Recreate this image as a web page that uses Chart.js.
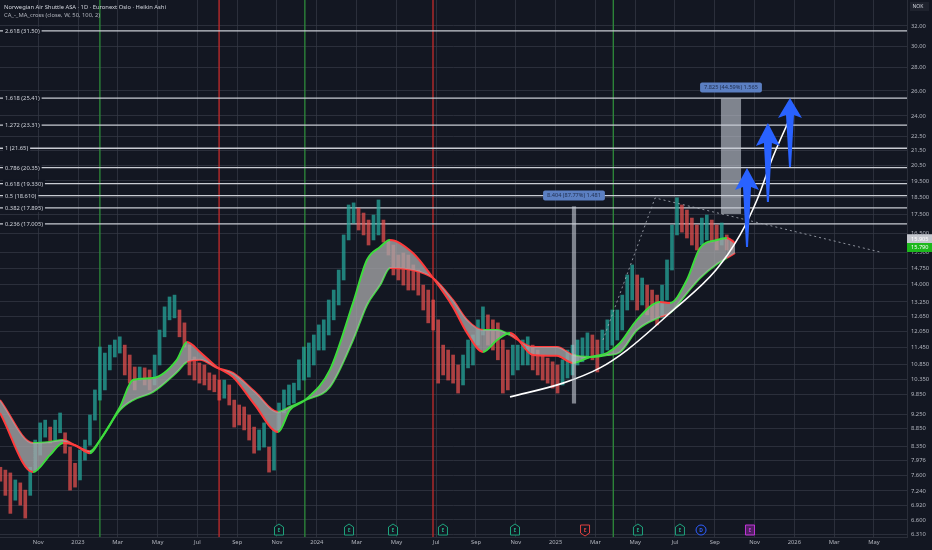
<!DOCTYPE html>
<html>
<head>
<meta charset="utf-8">
<script src="https://cdn.jsdelivr.net/npm/chart.js@4.4.1/dist/chart.umd.min.js"></script>
<style>
  html, body { margin: 0; padding: 0; background: #131722; }
  canvas { display: block; }
</style>
</head>
<body>
<canvas id="canvas-chart1" width="932" height="550"></canvas>
<script>
// weekly Heikin Ashi ranges, x in months since Jan 2023
const weekStart = -3.9;
const weekStep = 0.25;
const weekHigh = [
  7.81, 7.74, 7.67, 7.50, 7.43, 7.26, 7.81, 8.52, 9.00, 9.08,
  8.88, 9.08, 9.29, 8.72, 8.33, 7.91, 8.25, 8.52, 9.23, 10.00,
  11.47, 11.25, 11.54, 11.73, 11.85, 11.54, 11.18, 10.76, 10.76, 10.73,
  10.66, 11.18, 12.11, 13.04, 13.46, 13.54, 12.91, 12.39, 11.54, 11.11,
  10.90, 10.83, 10.56, 10.49, 10.32, 10.32, 10.16, 9.68, 9.53, 9.47,
  9.23, 8.88, 8.80, 9.00, 8.33, 8.80, 9.59, 10.00, 10.16, 10.22,
  11.01, 11.47, 11.62, 11.92, 12.31, 12.51, 13.33, 13.76, 14.67, 16.41,
  18.06, 18.18, 17.88, 17.60, 17.21, 17.49, 18.35, 17.21, 16.15, 15.89,
  15.39, 15.49, 15.39, 14.91, 14.67, 13.98, 13.76, 13.33, 12.51, 11.54,
  11.36, 11.18, 10.83, 11.18, 11.73, 11.92, 12.51, 13.04, 12.71, 12.51,
  12.39, 11.73, 11.36, 11.54, 11.54, 11.73, 11.85, 11.54, 11.36, 11.18,
  11.07, 10.94, 10.83, 11.01, 11.36, 11.54, 11.73, 11.81, 12.00, 11.92,
  11.73, 12.11, 12.51, 12.91, 12.91, 13.54, 14.44, 14.91, 14.44, 14.30,
  13.98, 13.76, 13.54, 13.98, 15.15, 16.94, 18.48, 18.06, 17.77, 17.32,
  16.94, 17.32, 17.49, 17.21, 16.94, 17.05, 16.41, 16.15
];
const weekLow = [
  7.47, 7.14, 6.74, 7.03, 6.92, 6.64, 7.14, 7.74, 8.12, 8.60,
  8.44, 8.52, 8.72, 8.17, 7.26, 7.33, 7.50, 7.99, 8.38, 9.08,
  9.68, 10.00, 10.66, 11.11, 11.25, 10.49, 10.22, 10.00, 10.32, 10.16,
  10.00, 10.16, 10.83, 11.85, 12.51, 12.59, 11.85, 11.47, 10.49, 10.32,
  10.22, 10.16, 10.00, 9.94, 9.68, 9.74, 9.53, 8.88, 8.94, 8.80,
  8.52, 8.17, 8.25, 8.33, 7.69, 7.74, 8.80, 9.29, 9.53, 9.59,
  10.00, 10.32, 10.42, 10.83, 11.36, 11.36, 11.92, 12.51, 13.12, 14.21,
  16.15, 17.05, 16.67, 16.41, 15.89, 16.15, 16.41, 16.04, 15.39, 14.44,
  14.21, 13.98, 13.76, 13.76, 13.54, 12.91, 12.39, 12.11, 10.22, 10.49,
  10.32, 10.22, 9.90, 10.16, 10.73, 10.83, 11.54, 11.92, 11.54, 11.36,
  11.01, 9.90, 10.00, 10.49, 10.66, 10.83, 10.83, 10.66, 10.49, 10.32,
  10.22, 10.06, 9.90, 10.16, 10.39, 10.49, 10.83, 10.94, 11.07, 11.01,
  10.59, 11.18, 11.36, 11.54, 11.73, 12.11, 12.91, 13.33, 12.91, 13.12,
  12.71, 12.51, 12.31, 12.59, 13.33, 14.67, 16.41, 16.56, 16.25, 15.89,
  15.64, 15.89, 16.15, 16.04, 15.64, 15.89, 15.64, 15.64
];

// MA cross indicator (weekly 50 / 100)
const maMonths = [-3.92, -2.26, -1.41, -0.75, -0.15, 0.60, 1.11, 2.11, 2.76, 3.77,
  4.97, 5.48, 6.13, 6.98, 7.79, 8.89, 10.05, 10.65, 11.41, 12.66,
  13.82, 14.52, 15.18, 15.68, 16.83, 17.84, 18.84, 19.55, 20.35, 21.06,
  21.71, 22.86, 24.07, 24.87, 25.73, 26.58, 27.24, 28.09, 29.25, 29.75,
  30.60, 31.26, 32.11, 32.61, 33.02];
const maFast = [9.29, 7.69, 8.12, 8.44, 8.38, 8.17, 8.52, 9.47, 10.32, 10.39,
  11.01, 11.66, 11.29, 10.76, 10.42, 9.53, 8.74, 9.38, 9.68, 10.66,
  13.20, 15.15, 15.79, 16.15, 15.49, 14.30, 13.04, 12.00, 11.29, 11.73,
  12.00, 11.18, 11.15, 10.90, 11.11, 11.25, 11.62, 12.51, 13.25, 13.20,
  14.21, 15.74, 16.15, 16.25, 15.99];
const maSlow = [9.68, 8.44, 8.47, 8.52, 8.38, 8.22, 8.52, 9.38, 9.68, 9.94,
  10.59, 10.94, 11.01, 10.73, 10.56, 9.94, 9.32, 9.47, 9.68, 10.10,
  11.73, 13.12, 13.98, 14.77, 14.67, 14.30, 13.33, 12.51, 12.11, 12.11,
  11.92, 11.47, 11.47, 11.18, 11.11, 11.18, 11.29, 12.11, 12.63, 12.79,
  13.63, 14.30, 14.96, 15.25, 15.49];

// drawings
const curveMonths = [21.71, 24.37, 26.23, 27.59, 29.75, 32.06, 33.27, 34.12, 34.92, 35.78];
const curvePrices = [9.78, 10.22, 10.73, 11.36, 12.79, 14.67, 16.41, 18.35, 21.05, 23.85];
const trendMonths = [26.38, 29.00, 40.30];
const trendPrices = [11.73, 18.47, 15.54];

const fibRatios = ["2.618", "1.618", "1.272", "1", "0.786", "0.618", "0.5", "0.382", "0.236"];
const fibPrices = [31.50, 25.41, 23.31, 21.65, 20.35, 19.33, 18.61, 17.895, 17.005];
const fibPriceText = ["31.50", "25.41", "23.31", "21.65", "20.35", "19.330", "18.610", "17.895", "17.005"];

const signalMonths = [1.1, 7.09, 11.4, 17.84, 26.9];
const signalTypes = ["buy", "sell", "buy", "sell", "buy"];

const eventMonths = [10.10, 13.62, 15.83, 18.34, 21.96, 25.48, 28.14, 30.25, 31.31, 33.77];
const eventKinds = ["beat", "beat", "beat", "beat", "beat", "miss", "beat", "beat", "div", "next"];

const rangeMonths = [[24.82, 25.03], [32.31, 33.32]];
const rangeLow = [9.575, 17.55];
const rangeHigh = [17.979, 25.375];
const rangeText = ["8.404 (87.77%) 1.481", "7.825 (44.59%) 1.565"];

const arrowMonths = [33.62, 34.67, 35.78];
const arrowTip = [20.33, 23.47, 25.42];
const arrowBase = [19.07, 21.95, 24.00];
const arrowTail = [15.79, 18.23, 20.39];

const lastClose = 15.905;
const lastMa = 15.79;

const xTickMonths = [-2, 0, 2, 4, 6, 8, 10, 12, 14, 16, 18, 20, 22, 24, 26, 28, 30, 32, 34, 36, 38, 40];
const xTickLabels = ["Nov", "2023", "Mar", "May", "Jul", "Sep", "Nov", "2024", "Mar", "May", "Jul",
  "Sep", "Nov", "2025", "Mar", "May", "Jul", "Sep", "Nov", "2026", "Mar", "May"];
const yTickValues = [32, 30, 28, 26, 24, 22.5, 21.5, 20.5, 19.5, 18.5, 17.5, 16.5, 15.5, 14.75, 14,
  13.25, 12.65, 12.05, 11.45, 10.85, 10.35, 9.85, 9.25, 8.85, 8.35, 7.976, 7.6, 7.24, 6.92, 6.6, 6.31];
const yTickLabels = ["32.00", "30.00", "28.00", "26.00", "24.00", "22.50", "21.50", "20.50", "19.500",
  "18.500", "17.500", "16.500", "15.500", "14.750", "14.000", "13.250", "12.650", "12.050", "11.450",
  "10.850", "10.350", "9.850", "9.250", "8.850", "8.350", "7.976", "7.600", "7.240", "6.920", "6.600", "6.310"];

const FONT = "'Noto Sans', 'DejaVu Sans', sans-serif";
const GREEN = "#3ddc3d", RED = "#ff3b3b";
const UP = "rgba(38,166,154,0.75)", DOWN = "rgba(239,83,80,0.7)";

const candleData = weekHigh.map((h, i) => ({ x: weekStart + i * weekStep, y: [weekLow[i], h] }));
const candleColors = weekHigh.map((h, i) => {
  if (i === 0) return DOWN;
  const mid = (h + weekLow[i]) / 2, prev = (weekHigh[i - 1] + weekLow[i - 1]) / 2;
  return mid >= prev ? UP : DOWN;
});
const maColor = (c) => (maFast[c.p1DataIndex] >= maFast[c.p0DataIndex] ? GREEN : RED);

function pts(xs, ys) {
  return xs.map((m, i) => ({ x: m, y: ys[i] }));
}

const overlay = {
  id: "overlay",
  beforeDraw(chart) {
    const { ctx, width, height } = chart;
    ctx.save();
    ctx.fillStyle = "#131722";
    ctx.fillRect(0, 0, width, height);
    ctx.restore();
  },
  beforeDatasetsDraw(chart) {
    const { ctx, chartArea: a, scales: { x, y } } = chart;
    ctx.save();
    ctx.lineWidth = 1.3;
    signalMonths.forEach((m, i) => {
      const px = x.getPixelForValue(m);
      ctx.strokeStyle = signalTypes[i] === "buy" ? "#2e8b3a" : "#c42b2b";
      ctx.beginPath();
      ctx.moveTo(px, a.top);
      ctx.lineTo(px, a.bottom);
      ctx.stroke();
    });
    ctx.strokeStyle = "#c9ccd3";
    ctx.lineWidth = 1.3;
    fibPrices.forEach((p) => {
      const py = y.getPixelForValue(p);
      ctx.beginPath();
      ctx.moveTo(a.left, py);
      ctx.lineTo(a.right, py);
      ctx.stroke();
    });
    ctx.restore();
  },
  afterDatasetsDraw(chart) {
    const { ctx, chartArea: a, scales: { x, y } } = chart;
    ctx.save();

    // price range tools
    rangeMonths.forEach((r, i) => {
      const x0 = x.getPixelForValue(r[0]), x1 = x.getPixelForValue(r[1]);
      const yTop = y.getPixelForValue(rangeHigh[i]), yBot = y.getPixelForValue(rangeLow[i]);
      ctx.fillStyle = "rgba(200,205,215,0.6)";
      ctx.fillRect(x0, yTop, x1 - x0, yBot - yTop);
      ctx.font = "5.6px " + FONT;
      const w = ctx.measureText(rangeText[i]).width + 8;
      const cx = (x0 + x1) / 2;
      ctx.fillStyle = "#5b7fc2";
      ctx.beginPath();
      ctx.roundRect(cx - w / 2, yTop - 16, w, 10, 2);
      ctx.fill();
      ctx.fillStyle = "#1f2d4d";
      ctx.textAlign = "center";
      ctx.textBaseline = "middle";
      ctx.fillText(rangeText[i], cx, yTop - 11);
    });

    // arrows
    ctx.fillStyle = "#2962ff";
    arrowMonths.forEach((m, i) => {
      const cx = x.getPixelForValue(m);
      const t = y.getPixelForValue(arrowTip[i]);
      const b = y.getPixelForValue(arrowBase[i]);
      const e = y.getPixelForValue(arrowTail[i]);
      ctx.beginPath();
      ctx.moveTo(cx, t);
      ctx.lineTo(cx + 12, b + 2);
      ctx.lineTo(cx + 4, b - 1);
      ctx.lineTo(cx + 1, e);
      ctx.lineTo(cx - 1, e);
      ctx.lineTo(cx - 4, b - 1);
      ctx.lineTo(cx - 12, b + 2);
      ctx.closePath();
      ctx.fill();
    });

    // fib labels
    ctx.font = "5.8px " + FONT;
    ctx.textAlign = "left";
    ctx.textBaseline = "middle";
    fibPrices.forEach((p, i) => {
      const py = y.getPixelForValue(p);
      const txt = fibRatios[i] + " (" + fibPriceText[i] + ")";
      const w = ctx.measureText(txt).width;
      ctx.fillStyle = "#131722";
      ctx.fillRect(a.left + 3, py - 4, w + 4, 8);
      ctx.fillStyle = "#d1d4dc";
      ctx.fillText(txt, a.left + 5, py + 0.5);
    });

    // earnings / dividend badges
    const cy = a.bottom - 7;
    ctx.font = "bold 5px " + FONT;
    ctx.textAlign = "center";
    eventMonths.forEach((m, i) => {
      const cx = x.getPixelForValue(m);
      const kind = eventKinds[i];
      ctx.lineWidth = 1;
      let col = "#1fa47e", letter = "E";
      ctx.beginPath();
      if (kind === "beat") {
        ctx.moveTo(cx, cy - 6); ctx.lineTo(cx + 4.5, cy - 3); ctx.lineTo(cx + 4.5, cy + 5);
        ctx.lineTo(cx - 4.5, cy + 5); ctx.lineTo(cx - 4.5, cy - 3); ctx.closePath();
      } else if (kind === "miss") {
        col = "#e0403f";
        ctx.moveTo(cx - 4.5, cy - 5); ctx.lineTo(cx + 4.5, cy - 5); ctx.lineTo(cx + 4.5, cy + 3);
        ctx.lineTo(cx, cy + 6); ctx.lineTo(cx - 4.5, cy + 3); ctx.closePath();
      } else if (kind === "div") {
        col = "#2f5fff"; letter = "D";
        ctx.arc(cx, cy, 5, 0, Math.PI * 2);
      } else {
        col = "#c234d9";
        ctx.rect(cx - 4.5, cy - 5, 9, 10);
      }
      ctx.fillStyle = kind === "next" ? "rgba(194,52,217,0.35)" : "#131722";
      ctx.fill();
      ctx.strokeStyle = col;
      ctx.stroke();
      ctx.fillStyle = col;
      ctx.fillText(letter, cx, cy + 0.5);
    });
    ctx.restore();
  },
  afterDraw(chart) {
    const { ctx, chartArea: a, scales: { y } } = chart;
    ctx.save();
    ctx.textBaseline = "middle";
    ctx.textAlign = "left";
    ctx.font = "5.8px " + FONT;
    ctx.fillStyle = "#d1d4dc";
    ctx.fillText("Norwegian Air Shuttle ASA \u00b7 1D \u00b7 Euronext Oslo \u00b7 Heikin Ashi", 4, 7);
    ctx.fillStyle = "#b2b5be";
    ctx.fillText("CA_-_MA_cross (close, W, 50, 100, 2)", 4, 15.5);

    // currency box
    ctx.fillStyle = "#1e222d";
    ctx.fillRect(a.right + 3, 2, 19, 9);
    ctx.fillStyle = "#d1d4dc";
    ctx.font = "5px " + FONT;
    ctx.fillText("NOK", a.right + 5.5, 6.8);

    // last value labels
    ctx.font = "5.6px " + FONT;
    const yc = y.getPixelForValue(lastClose) - 6;
    ctx.fillStyle = "#c4c7ce";
    ctx.fillRect(a.right, yc - 4.5, 25, 9);
    ctx.fillStyle = "#ffffff";
    ctx.fillText(lastClose.toFixed(3), a.right + 4, yc + 0.3);
    const ym = y.getPixelForValue(lastMa) + 0.5;
    ctx.fillStyle = "#1cb81c";
    ctx.fillRect(a.right, ym - 4.5, 25, 9);
    ctx.fillStyle = "#ffffff";
    ctx.fillText(lastMa.toFixed(3), a.right + 4, ym + 0.3);
    ctx.restore();
  },
};

const ctx = document.getElementById("canvas-chart1").getContext("2d");
new Chart(ctx, {
  data: {
    datasets: [
      {
        type: "line",
        label: "curve",
        data: pts(curveMonths, curvePrices),
        borderColor: "#ffffff",
        borderWidth: 1.6,
        pointRadius: 0,
        tension: 0.4,
        cubicInterpolationMode: "monotone",
      },
      {
        type: "line",
        label: "trend",
        data: pts(trendMonths, trendPrices),
        borderColor: "rgba(170,175,185,0.8)",
        borderWidth: 1,
        borderDash: [2, 3],
        pointRadius: 0,
      },
      {
        type: "line",
        label: "fast",
        data: pts(maMonths, maFast),
        borderWidth: 2,
        borderColor: GREEN,
        segment: { borderColor: maColor },
        pointRadius: 0,
        cubicInterpolationMode: "monotone",
        fill: "+1",
        backgroundColor: "rgba(165,165,168,0.78)",
      },
      {
        type: "line",
        label: "slow",
        data: pts(maMonths, maSlow),
        borderWidth: 2,
        borderColor: GREEN,
        segment: { borderColor: maColor },
        pointRadius: 0,
        cubicInterpolationMode: "monotone",
      },
      {
        type: "bar",
        label: "price",
        data: candleData,
        backgroundColor: candleColors,
        barThickness: 3,
        grouped: false,
      },
    ],
  },
  options: {
    responsive: false,
    animation: false,
    events: [],
    layout: { padding: 0 },
    plugins: { legend: { display: false }, tooltip: { enabled: false } },
    scales: {
      x: {
        type: "linear",
        offset: false,
        min: -3.92,
        max: 41.66,
        afterBuildTicks: (s) => { s.ticks = xTickMonths.map((v) => ({ value: v })); },
        afterFit: (s) => { s.height = 13; s.paddingLeft = 0; s.paddingRight = 0; },
        ticks: {
          autoSkip: false,
          maxRotation: 0,
          padding: 2,
          color: "#b2b5be",
          font: { size: 5.8, family: FONT },
          callback: (v) => xTickLabels[xTickMonths.indexOf(v)],
        },
        grid: { color: "rgba(54,58,70,0.7)", drawTicks: false, offset: false },
        border: { display: true, color: "#2a2e39" },
      },
      y: {
        type: "logarithmic",
        position: "right",
        min: 6.25,
        max: 34.77,
        afterBuildTicks: (s) => { s.ticks = yTickValues.map((v) => ({ value: v })); },
        afterFit: (s) => { s.width = 25; s.paddingTop = 0; s.paddingBottom = 0; },
        ticks: {
          autoSkip: false,
          padding: 4,
          color: "#b2b5be",
          font: { size: 5.8, family: FONT },
          callback: (v) => yTickLabels[yTickValues.indexOf(v)],
        },
        grid: { color: "rgba(54,58,70,0.7)", drawTicks: false },
        border: { display: true, color: "#2a2e39" },
      },
    },
  },
  plugins: [overlay],
});
</script>
</body>
</html>
